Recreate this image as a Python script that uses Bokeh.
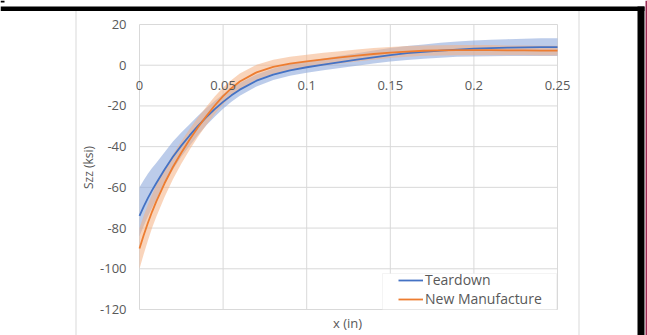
import math
from bokeh.plotting import figure
from bokeh.models import Range1d, FixedTicker, BoxAnnotation, Label, Legend, LegendItem
from bokeh.embed import file_html
from bokeh.resources import INLINE

# ---------------- data ----------------
XS = [0, 0.0025, 0.005, 0.0075, 0.01, 0.015, 0.02, 0.025, 0.03, 0.035, 0.04,
      0.045, 0.05, 0.055, 0.06, 0.07, 0.08, 0.09, 0.1, 0.11, 0.12, 0.13, 0.14,
      0.15, 0.16, 0.17, 0.18, 0.19, 0.2, 0.21, 0.22, 0.23, 0.24, 0.25]

TEARDOWN = [-74, -69.5, -65.3, -61.5, -58, -51.2, -45, -39.5, -34.5, -29.8, -25.5,
            -21.6, -18, -14.8, -12, -7.6, -4.6, -2.5, -1, 0.3, 1.5, 2.7, 3.9,
            5, 5.9, 6.6, 7.2, 7.7, 8.1, 8.4, 8.6, 8.75, 8.85, 8.9]
TEARDOWN_UPPER = [-60, -56.5, -53.3, -50.5, -48, -42.7, -37.5, -33, -29, -24.8, -21,
                  -17.6, -14.3, -11.3, -8.7, -4.5, -1.6, 0.5, 2, 3.3, 4.6, 5.9, 7.2,
                  8.4, 9.4, 10.2, 11, 11.6, 12.1, 12.5, 12.8, 13.05, 13.2, 13.3]
TEARDOWN_LOWER = [-84, -79, -74.3, -70, -66, -58.2, -51.2, -45, -39.5, -34.3, -29.5,
                  -25.3, -21.4, -18, -15, -10.4, -7.3, -5.2, -3.7, -2.5, -1.4, -0.3, 0.8,
                  1.8, 2.6, 3.2, 3.7, 4.1, 4.3, 4.4, 4.5, 4.5, 4.5, 4.5]

NEW_MFG = [-90, -83.5, -77.5, -72, -67, -58, -50, -43, -36.5, -30.5, -25,
           -19.8, -15.2, -11.3, -8, -3.5, -0.8, 0.8, 1.9, 2.9, 3.8, 4.7, 5.5,
           6.2, 6.7, 7.1, 7.3, 7.4, 7.4, 7.4, 7.3, 7.3, 7.2, 7.2]
NEW_MFG_UPPER = [-80, -74, -68.5, -63.5, -59, -51, -43.8, -37.4, -31.3, -25.6, -20.4,
                 -15.4, -11, -7.3, -4.1, 0.2, 2.7, 4.2, 5.2, 6.1, 6.9, 7.7, 8.4,
                 9, 9.4, 9.7, 9.8, 9.9, 9.9, 9.9, 9.7, 9.7, 9.6, 9.6]
NEW_MFG_LOWER = [-100, -92.8, -86.2, -80, -74.5, -64.7, -56, -48.4, -41.5, -35.2, -29.4,
                 -24, -19.2, -15.1, -11.7, -7, -4.2, -2.5, -1.3, -0.2, 0.8, 1.8, 2.7,
                 3.5, 4.1, 4.6, 4.8, 4.9, 4.9, 4.9, 4.9, 4.9, 4.8, 4.8]

X_TICKS = [0, 0.05, 0.1, 0.15, 0.2, 0.25]
X_TICK_LABELS = ["0", "0.05", "0.1", "0.15", "0.2", "0.25"]
Y_TICKS = [-120, -100, -80, -60, -40, -20, 0, 20]
Y_TICK_LABELS = ["-120", "-100", "-80", "-60", "-40", "-20", "0", "20"]

SERIES_NAMES = ["Teardown", "New Manufacture"]
X_TITLE = "x (in)"
Y_TITLE = "Szz (ksi)"

# ---------------- styling / layout ----------------
FONT = "Open Sans"
TXT = "#595959"
GRID = "#D9D9D9"
BLUE = "#4472C4"
ORANGE = "#ED7D31"

W, H = 647, 335
PL, PR, PT, PB = 139, 557, 24, 309   # plot-area edges on the canvas (px)

XMIN, XMAX = X_TICKS[0], X_TICKS[-1]
YMIN, YMAX = Y_TICKS[0], Y_TICKS[-1]
kx = (XMAX - XMIN) / (PR - PL)
ky = (YMAX - YMIN) / (PB - PT)
x_range = Range1d(XMIN - PL * kx, XMAX + (W - PR) * kx)
y_range = Range1d(YMIN - (H - PB) * ky, YMAX + PT * ky)

p = figure(width=W, height=H, output_backend="svg", toolbar_location=None,
           x_range=x_range, y_range=y_range, min_border=0,
           min_border_left=0, min_border_right=0, min_border_top=0, min_border_bottom=0)
p.background_fill_color = "white"
p.border_fill_color = "white"
p.outline_line_color = None
p.grid.visible = False

# gridlines limited to the plot area
p.segment(x0=X_TICKS, y0=[YMIN] * len(X_TICKS), x1=X_TICKS, y1=[YMAX] * len(X_TICKS),
          line_color=GRID, line_width=1)
p.segment(x0=[XMIN] * len(Y_TICKS), y0=Y_TICKS, x1=[XMAX] * len(Y_TICKS), y1=Y_TICKS,
          line_color=GRID, line_width=1)

xa = p.xaxis[0]
xa.fixed_location = 0
xa.bounds = (XMIN, XMAX)
xa.ticker = FixedTicker(ticks=X_TICKS)
xa.major_label_overrides = {t: l for t, l in zip(X_TICKS, X_TICK_LABELS)}
xa.axis_line_color = None
xa.major_tick_line_color = None
xa.minor_tick_line_color = None
xa.major_tick_out = 0
xa.major_tick_in = 0
xa.major_label_standoff = 16
xa.major_label_text_font = FONT
xa.major_label_text_font_size = "13px"
xa.major_label_text_color = TXT

ya = p.yaxis[0]
ya.fixed_location = 0
ya.bounds = (YMIN, YMAX)
ya.ticker = FixedTicker(ticks=Y_TICKS)
ya.major_label_overrides = {t: l for t, l in zip(Y_TICKS, Y_TICK_LABELS)}
ya.axis_line_color = None
ya.major_tick_line_color = None
ya.minor_tick_line_color = None
ya.major_tick_out = 0
ya.major_tick_in = 0
ya.major_label_standoff = 13
ya.major_label_text_font = FONT
ya.major_label_text_font_size = "13px"
ya.major_label_text_color = TXT

# bands
p.varea(x=XS, y1=TEARDOWN_LOWER, y2=TEARDOWN_UPPER, fill_color="#8FAADC", fill_alpha=0.6)
p.varea(x=XS, y1=NEW_MFG_LOWER, y2=NEW_MFG_UPPER, fill_color="#F4B183", fill_alpha=0.55)
# mean curves
r_blue = p.line(XS, TEARDOWN, line_color=BLUE, line_width=1.8)
r_orange = p.line(XS, NEW_MFG, line_color=ORANGE, line_width=1.8)


def sx(cx):
    return cx


def sy(cy):
    return H - cy


def box(l, r, t, b, color, line=None):
    bx = BoxAnnotation(left=sx(l), right=sx(r), top=sy(t), bottom=sy(b),
                       left_units="screen", right_units="screen",
                       top_units="screen", bottom_units="screen",
                       fill_color=color, fill_alpha=1.0 if color else 0,
                       line_color=line, line_width=1)
    p.add_layout(bx)
    return bx


# slide decorations around the chart
box(75, 76, 10, 335, GRID)
box(578, 579, 10, 335, GRID)
box(0, 644, 6, 10.5, "black")
box(637, 644, 6, 335, "black")
box(645, 647, 0, 335, "#9E2A55")
box(0, 4, 0, 2, "black")

# legend frame
box(382, 556, 273, 309, "white", line=GRID)

legend = Legend(items=[LegendItem(label=SERIES_NAMES[0], renderers=[r_blue]),
                       LegendItem(label=SERIES_NAMES[1], renderers=[r_orange])],
                location=(sx(397), sy(309)),
                orientation="vertical",
                label_text_font=FONT, label_text_font_size="14px",
                label_text_color=TXT, glyph_width=25, glyph_height=16,
                label_height=16, label_standoff=2, spacing=0, padding=1,
                margin=0, border_line_alpha=0, background_fill_alpha=0)
p.add_layout(legend)

p.add_layout(Label(x=sx(88), y=sy(167), x_units="screen", y_units="screen",
                   text=Y_TITLE, angle=math.pi / 2, text_align="center",
                   text_baseline="middle", text_font=FONT,
                   text_font_size="12px", text_color=TXT))
p.add_layout(Label(x=sx(347), y=sy(322), x_units="screen", y_units="screen",
                   text=X_TITLE, text_align="center", text_baseline="middle",
                   text_font=FONT, text_font_size="13px", text_color=TXT))

open("out.html", "w").write(file_html(p, INLINE))
